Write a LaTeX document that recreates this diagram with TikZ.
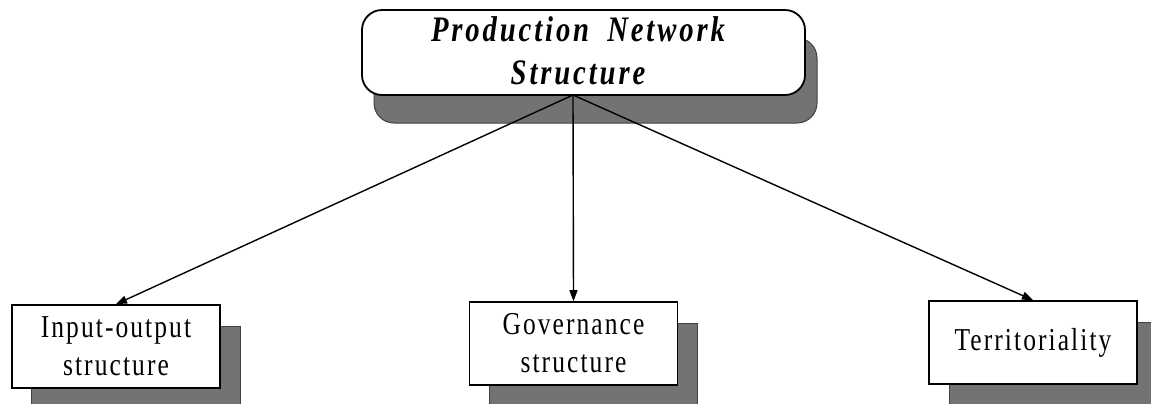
\documentclass[tikz,border=0pt]{standalone}
\usepackage{fontspec}
\setmainfont{Liberation Serif}
\newfontfamily\headfont[FakeStretch=0.8,LetterSpace=8,WordSpace=1.8]{Liberation Serif}
\newfontfamily\boxfont[FakeStretch=0.8,LetterSpace=6.5]{Liberation Serif}
\usetikzlibrary{arrows.meta,shadows}
\begin{document}
\begin{tikzpicture}[x=1bp,y=-1bp,
  shade box/.style={fill=black!55, draw=black!75, line width=1bp, opacity=1},
  headbox/.style={draw, line width=1.8bp, rounded corners=20bp, fill=white,
    minimum width=443bp, minimum height=85bp, inner sep=0pt,
    drop shadow={shadow xshift=12bp, shadow yshift=-28bp, shade box}},
  headtext/.style={align=center, inner sep=0pt,
    font=\fontsize{36}{43}\headfont\bfseries\itshape},
  subbox/.style={draw, line width=1.6bp, fill=white,
    minimum width=208bp, minimum height=83bp, align=center, inner sep=0pt,
    font=\fontsize{32}{38}\boxfont,
    drop shadow={shadow xshift=20bp, shadow yshift=-21bp, shade box}},
  conn/.style={line width=1.4bp, -{Triangle[length=11bp,width=8bp]}}]
  \useasboundingbox (0,0) rectangle (1151,403);
  \clip (0,0) rectangle (1151,403);

  % top concept
  \node[headbox] (top) at (583.5,52.5) {};
  \node[headtext, anchor=base] (toptext) at (578,84) {Production Network\\Structure};
  \coordinate (hub) at (573,95);

  % three dimensions
  \node[subbox] (io)   at (116,346.5)  {Input-output\\structure};
  \node[subbox] (gov)  at (573.5,343.5) {Governance\\structure};
  \node[subbox] (terr) at (1033,342.5) {Territoriality};

  % connectors
  \draw[conn] (hub) -- (io.north);
  \draw[conn] (hub) -- (gov.north);
  \draw[conn] (hub) -- (terr.north);
\end{tikzpicture}
\end{document}
